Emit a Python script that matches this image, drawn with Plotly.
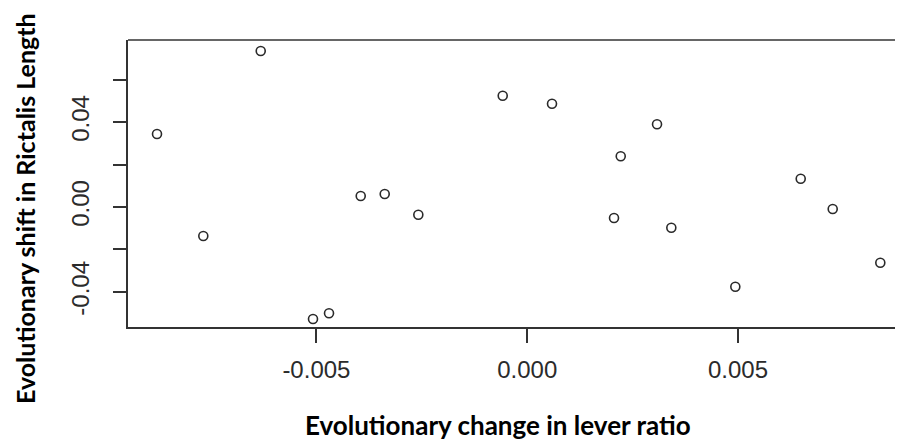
import plotly.graph_objects as go

lever_ratio_change = [-0.008781, -0.007683, -0.006321, -0.005081, -0.004701, -0.003949,
                      -0.003380, -0.002583, -0.000581, 0.000588, 0.002059, 0.002218,
                      0.003079, 0.003418, 0.004936, 0.006487, 0.007246, 0.008375]
rictalis_shift = [0.03437, -0.01365, 0.07345, -0.05273, -0.05005, 0.00518,
                  0.00612, -0.00363, 0.05240, 0.04863, -0.00518, 0.02387,
                  0.03894, -0.00975, -0.03752, 0.01332, -0.00094, -0.02622]

x_tickvals = [-0.005, 0.0, 0.005]
x_ticktext = ["-0.005", "0.000", "0.005"]
y_tickvals = [-0.04, -0.02, 0.0, 0.02, 0.04, 0.06]
y_ticktext = ["-0.04", "", "0.00", "", "0.04", ""]

x_title = "Evolutionary change in lever ratio"
y_title = "Evolutionary shift in Rictalis Length"

W, H = 903, 443
OFF = 8  # page body margin
L, T, B, R = 120, 32, 124, 0
PW, PH = W - L - R, H - T - B


def px(sx):
    return (sx - OFF - L) / PW


def py(sy):
    return (H - B - (sy - OFF)) / PH


fig = go.Figure(go.Scatter(
    x=lever_ratio_change, y=rictalis_shift, mode="markers",
    marker=dict(symbol="circle-open", size=9, color="#2a2a2a", line=dict(width=1.6)),
    hoverinfo="x+y",
))

tickfont = dict(family="Liberation Sans, Arial, sans-serif", size=24, color="#2b2b2b")

fig.update_layout(
    width=W, height=H,
    margin=dict(l=L, r=R, t=T, b=B),
    paper_bgcolor="white", plot_bgcolor="white",
    showlegend=False,
    xaxis=dict(range=[-0.009469, 0.009103], showgrid=False, zeroline=False,
               showline=True, linecolor="#333", linewidth=1.5,
               tickvals=x_tickvals, ticktext=x_ticktext,
               ticks="outside", ticklen=14, tickwidth=1.5, tickcolor="#333",
               tickfont=tickfont, ticklabelstandoff=6),
    yaxis=dict(range=[-0.0565, 0.07863], showgrid=False, zeroline=False,
               showline=True, linecolor="#333", linewidth=1.5,
               tickvals=y_tickvals, ticktext=y_ticktext, tickangle=-90,
               ticks="outside", ticklen=13, tickwidth=1.5, tickcolor="#333",
               tickfont=tickfont, ticklabelstandoff=15),
    shapes=[dict(type="line", xref="paper", yref="paper", x0=0, x1=1, y0=1, y1=1,
                 line=dict(color="#333", width=1.5))],
    annotations=[
        dict(text="<b>" + x_title + "</b>", xref="paper", yref="paper",
             x=px(497.5), y=py(425),
             xanchor="center", yanchor="middle", showarrow=False,
             font=dict(family="Lato, sans-serif", size=26, color="black")),
        dict(text="<b>" + y_title + "</b>", xref="paper", yref="paper",
             x=px(25), y=py(209),
             xanchor="center", yanchor="middle", showarrow=False, textangle=-90,
             font=dict(family="Lato, sans-serif", size=25, color="black")),
    ],
)

fig.write_html("out.html")
